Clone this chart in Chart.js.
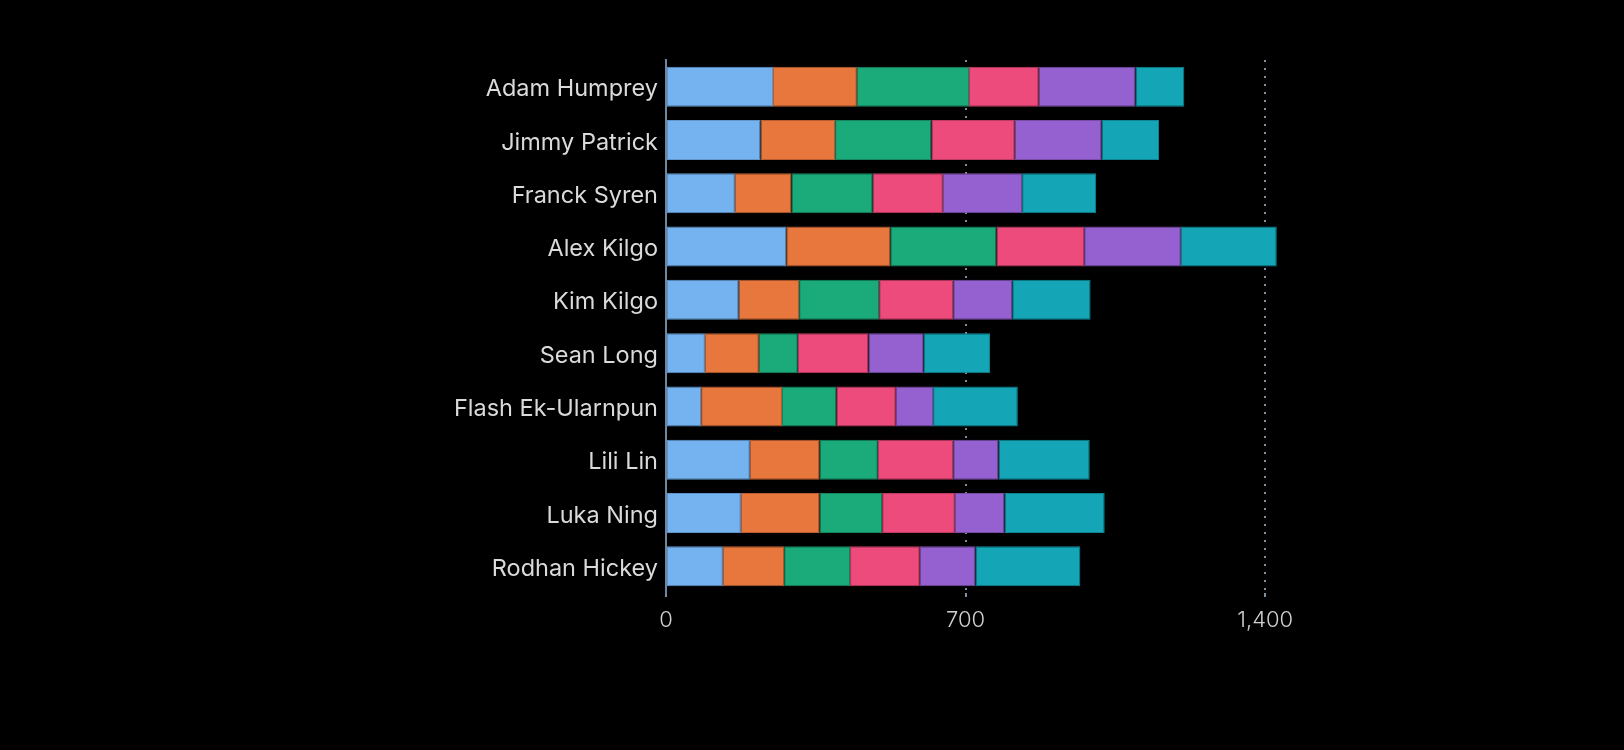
<!DOCTYPE html>
<html>
<head>
<meta charset="utf-8">
<style>
  html, body { margin: 0; padding: 0; background: #000; }
  #wrap { width: 1624px; height: 750px; position: relative; }
</style>
<script src="https://cdn.jsdelivr.net/npm/chart.js@4.4.1/dist/chart.umd.min.js"></script>
</head>
<body>
<div id="wrap"><canvas id="c" width="1624" height="750"></canvas></div>
<script>
const categories = ["Adam Humprey", "Jimmy Patrick", "Franck Syren", "Alex Kilgo", "Kim Kilgo",
  "Sean Long", "Flash Ek-Ularnpun", "Lili Lin", "Luka Ning", "Rodhan Hickey"];

const series1 = [250, 221, 161, 281, 170, 91, 82, 196, 175, 133];
const series2 = [196, 174, 132, 243, 141, 126, 189, 163, 184, 143];
const series3 = [262, 225, 190, 248, 187, 91, 127, 136, 146, 154];
const series4 = [163, 195, 164, 205, 173, 165, 139, 176, 170, 163];
const series5 = [226, 203, 185, 226, 138, 129, 87, 106, 116, 130];
const series6 = [114, 134, 173, 224, 183, 155, 198, 213, 234, 245];

const xTicks = [0, 700, 1400];

const colors = ["#74b3f0", "#e8773e", "#1baa7a", "#ee4b7d", "#9560cf", "#14a6b6"];
const borders = ["#5f95c9", "#b85e30", "#148560", "#be3c64", "#774ca5", "#0f8591"];
const allSeries = [series1, series2, series3, series4, series5, series6];

const datasets = allSeries.map((d, i) => ({
  label: "Series " + (i + 1),
  data: d,
  backgroundColor: colors[i],
  borderColor: borders[i],
  borderWidth: 1,
  borderSkipped: false,
  categoryPercentage: 1.0,
  barPercentage: 0.75
}));

new Chart(document.getElementById("c"), {
  type: "bar",
  data: { labels: categories, datasets },
  options: {
    indexAxis: "y",
    responsive: false,
    animation: false,
    layout: { padding: { top: 60, left: 0, right: 316, bottom: 97 } },
    plugins: { legend: { display: false }, tooltip: { enabled: false } },
    scales: {
      x: {
        stacked: true,
        min: 0,
        max: 1500,
        afterBuildTicks: (scale) => {
          scale.ticks = xTicks.map(v => ({ value: v }));
        },
        afterFit: (scale) => { scale.height = 60; },
        grid: {
          color: "#7d8ea3",
          lineWidth: 2,
          drawTicks: true,
          tickLength: 4,
          tickColor: "#7d8ea3",
          tickWidth: 2,
          tickBorderDash: []
        },
        border: { display: false, dash: [2, 6], dashOffset: 0 },
        ticks: {
          color: "#d0d0d0",
          padding: 10,
          font: { family: "Inter", size: 22, weight: 300 },
          callback: (v) => v.toLocaleString("en-US")
        }
      },
      y: {
        stacked: true,
        afterFit: (scale) => { scale.width = 666; },
        grid: { display: false, drawTicks: false },
        border: { display: true, color: "#6f86a0", width: 2 },
        ticks: {
          color: "#dadada",
          padding: 8,
          labelOffset: 2.5,
          font: { family: "Inter", size: 23.5 }
        }
      }
    }
  }
});
</script>
</body>
</html>
